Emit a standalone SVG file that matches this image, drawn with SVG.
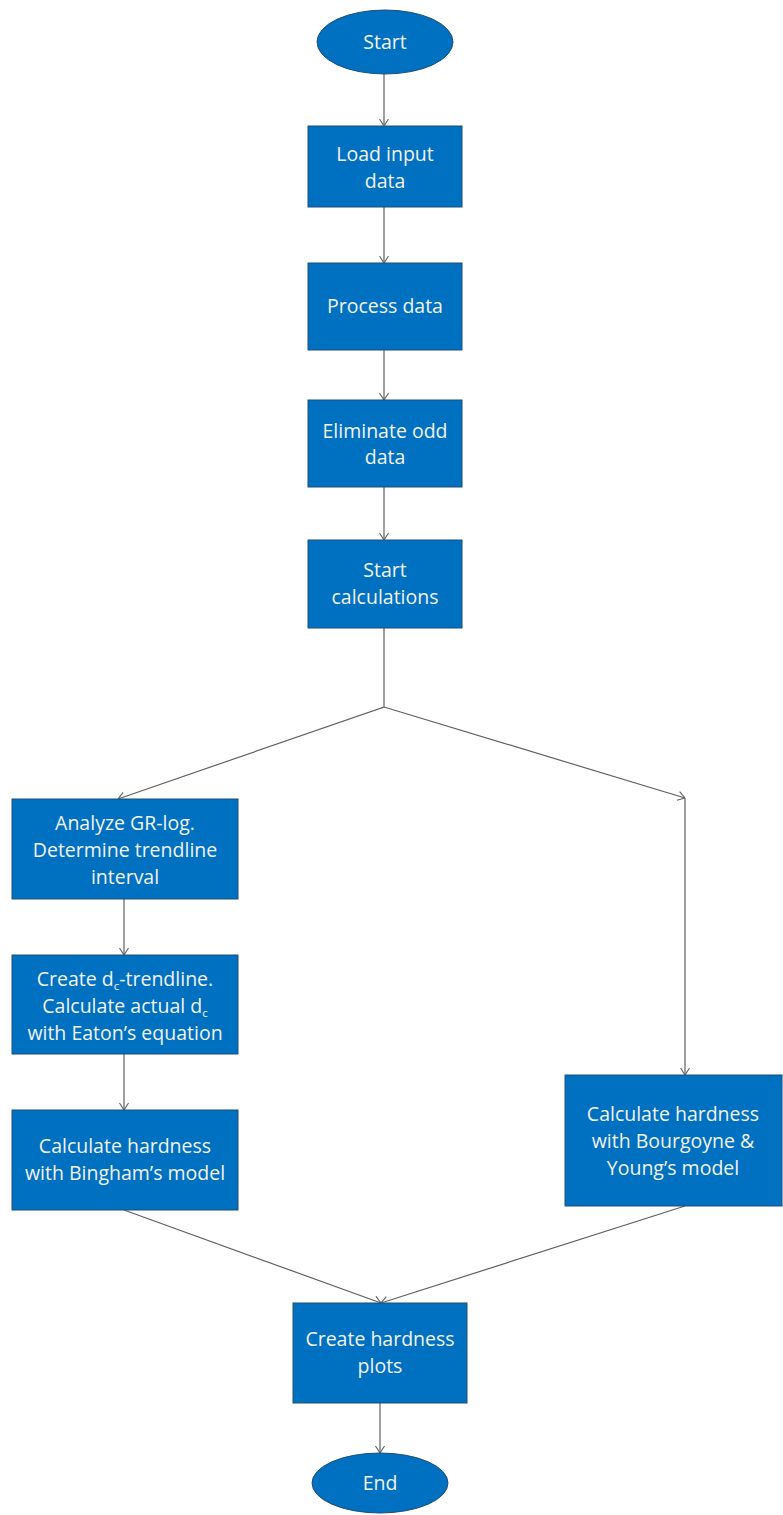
<svg xmlns="http://www.w3.org/2000/svg" width="783" height="1515" viewBox="0 0 783 1515">
<style>
.n{fill:#0070C0;stroke:#1F4E79;stroke-width:1}
.t{font-family:"Open Sans","Noto Sans",sans-serif;font-size:19.5px;fill:#F2F2F2;text-anchor:middle}
.s{font-size:11.5px}
.c{fill:none;stroke:#606060;stroke-width:1.2}
</style>
<defs>
<marker id="a" viewBox="0 0 10 10" refX="10" refY="5" markerWidth="10" markerHeight="10" markerUnits="userSpaceOnUse" orient="auto">
<path d="M3,0.5 L10,5 L3,9.5" fill="none" stroke="#606060" stroke-width="1.1"/>
</marker>
</defs>
<rect width="783" height="1515" fill="#fff"/>
<g id="connectors">
<line class="c" x1="384" y1="74" x2="384" y2="126" marker-end="url(#a)"/>
<line class="c" x1="384" y1="207" x2="384" y2="263" marker-end="url(#a)"/>
<line class="c" x1="384" y1="350" x2="384" y2="400" marker-end="url(#a)"/>
<line class="c" x1="384" y1="487" x2="384" y2="540" marker-end="url(#a)"/>
<polyline class="c" points="384,628 384,707 118,799" marker-end="url(#a)"/>
<polyline class="c" points="384,707 685,798" marker-end="url(#a)"/>
<line class="c" x1="685" y1="798" x2="685" y2="1075" marker-end="url(#a)"/>
<line class="c" x1="124" y1="899" x2="124" y2="955" marker-end="url(#a)"/>
<line class="c" x1="124" y1="1054" x2="124" y2="1110" marker-end="url(#a)"/>
<line class="c" x1="124" y1="1210" x2="381" y2="1303" marker-end="url(#a)"/>
<line class="c" x1="685" y1="1206" x2="381" y2="1303" marker-end="url(#a)"/>
<line class="c" x1="380" y1="1403" x2="380" y2="1453" marker-end="url(#a)"/>
</g>
<g id="start">
<ellipse class="n" cx="385" cy="42" rx="68" ry="32"/>
<text class="t" x="385" y="49">Start</text>
</g>
<g id="load">
<rect class="n" x="308" y="126" width="154" height="81"/>
<text class="t" x="385" y="161">Load input</text>
<text class="t" x="385" y="188">data</text>
</g>
<g id="process">
<rect class="n" x="308" y="263" width="154" height="87"/>
<text class="t" x="385" y="313">Process data</text>
</g>
<g id="eliminate">
<rect class="n" x="308" y="400" width="154" height="87"/>
<text class="t" x="385" y="438">Eliminate odd</text>
<text class="t" x="385" y="464">data</text>
</g>
<g id="startcalc">
<rect class="n" x="308" y="540" width="154" height="88"/>
<text class="t" x="385" y="577">Start</text>
<text class="t" x="385" y="604">calculations</text>
</g>
<g id="analyze">
<rect class="n" x="12" y="799" width="226" height="100"/>
<text class="t" x="125" y="830">Analyze GR-log.</text>
<text class="t" x="125" y="857">Determine trendline</text>
<text class="t" x="125" y="884">interval</text>
</g>
<g id="trendline">
<rect class="n" x="12" y="955" width="226" height="99"/>
<text class="t" x="125" y="986">Create d<tspan class="s" dy="4">c</tspan><tspan dy="-4">-trendline.</tspan></text>
<text class="t" x="125" y="1013">Calculate actual d<tspan class="s" dy="4">c</tspan></text>
<text class="t" x="125" y="1040">with Eaton’s equation</text>
</g>
<g id="bingham">
<rect class="n" x="12" y="1110" width="226" height="100"/>
<text class="t" x="125" y="1153">Calculate hardness</text>
<text class="t" x="125" y="1180">with Bingham’s model</text>
</g>
<g id="bourgoyne">
<rect class="n" x="565" y="1075" width="217" height="131"/>
<text class="t" x="673" y="1121">Calculate hardness</text>
<text class="t" x="673" y="1148">with Bourgoyne &amp;</text>
<text class="t" x="673" y="1175">Young’s model</text>
</g>
<g id="plots">
<rect class="n" x="293" y="1303" width="174" height="100"/>
<text class="t" x="380" y="1346">Create hardness</text>
<text class="t" x="380" y="1373">plots</text>
</g>
<g id="end">
<ellipse class="n" cx="380" cy="1483" rx="68" ry="30"/>
<text class="t" x="380" y="1490">End</text>
</g>
</svg>
